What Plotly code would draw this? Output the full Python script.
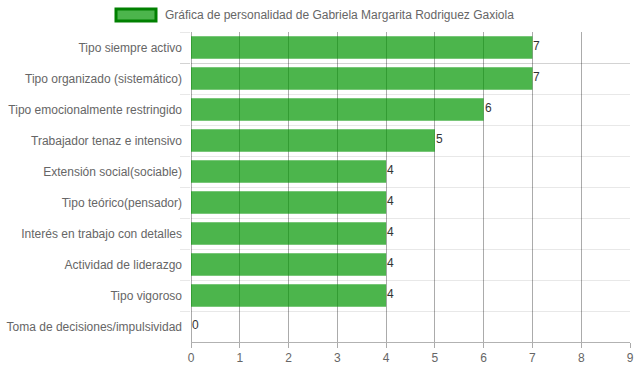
import plotly.graph_objects as go

categories = [
    "Tipo siempre activo",
    "Tipo organizado (sistemático)",
    "Tipo emocionalmente restringido",
    "Trabajador tenaz e intensivo",
    "Extensión social(sociable)",
    "Tipo teórico(pensador)",
    "Interés en trabajo con detalles",
    "Actividad de liderazgo",
    "Tipo vigoroso",
    "Toma de decisiones/impulsividad",
]
values = [7, 7, 6, 5, 4, 4, 4, 4, 4, 0]
x_ticks = [0, 1, 2, 3, 4, 5, 6, 7, 8, 9]
series_name = "Gráfica de personalidad de Gabriela Margarita Rodriguez Gaxiola"

fig = go.Figure()
fig.add_trace(go.Bar(
    y=categories,
    x=values,
    orientation="h",
    name=series_name,
    marker=dict(color="rgba(0,150,0,0.7)", line=dict(width=0)),
    showlegend=False,
    hoverinfo="x+y",
))

# value labels at bar ends
for cat, val in zip(categories, values):
    fig.add_annotation(x=val, y=cat, xref="x", yref="y", text=str(val),
                       showarrow=False, xanchor="left", yanchor="middle",
                       xshift=-1, yshift=2,
                       font=dict(family="Liberation Sans, Arial", size=12, color="#333"))

fig.update_layout(
    width=637, height=371,
    margin=dict(l=191, r=7, t=32, b=29, autoexpand=False),
    paper_bgcolor="white", plot_bgcolor="white",
    bargap=0.28,
    font=dict(family="Liberation Sans, Arial", size=12, color="#666"),
    xaxis=dict(
        range=[0, 9],
        tickvals=x_ticks,
        automargin=False,
        showgrid=True, gridcolor="rgba(0,0,0,0.33)", gridwidth=1,
        zeroline=True, zerolinecolor="rgba(0,0,0,0.33)", zerolinewidth=1,
        ticks="outside", ticklen=5, tickcolor="rgba(0,0,0,0.33)",
        showline=True, linecolor="rgba(0,0,0,0.3)", linewidth=1,
        tickfont=dict(size=12, color="#666"),
        fixedrange=True,
    ),
    yaxis=dict(
        type="category",
        autorange="reversed",
        automargin=False,
        tickson="boundaries",
        showgrid=True, gridcolor="rgba(0,0,0,0.09)", gridwidth=1,
        ticks="outside", ticklen=10, tickcolor="rgba(0,0,0,0.09)",
        ticklabelstandoff=8,
        tickfont=dict(size=12, color="#666"),
        showline=False,
        fixedrange=True,
    ),
)

# legend (Chart.js-style box)
fig.add_shape(type="rect", xref="paper", yref="paper",
              x0=(116 - 191) / 439, x1=(156 - 191) / 439,
              y0=(342 - 21) / 310, y1=(342 - 9) / 310,
              fillcolor="rgba(0,150,0,0.7)", line=dict(color="green", width=3))
fig.add_annotation(xref="paper", yref="paper",
                   x=(163 - 191) / 439, y=(342 - 15) / 310,
                   xanchor="left", yanchor="middle", showarrow=False,
                   text=series_name, font=dict(size=12, color="#666"))

fig.write_html("out.html", config={"displayModeBar": False},
               post_script="document.body.style.margin='0';document.body.style.overflow='hidden';")
